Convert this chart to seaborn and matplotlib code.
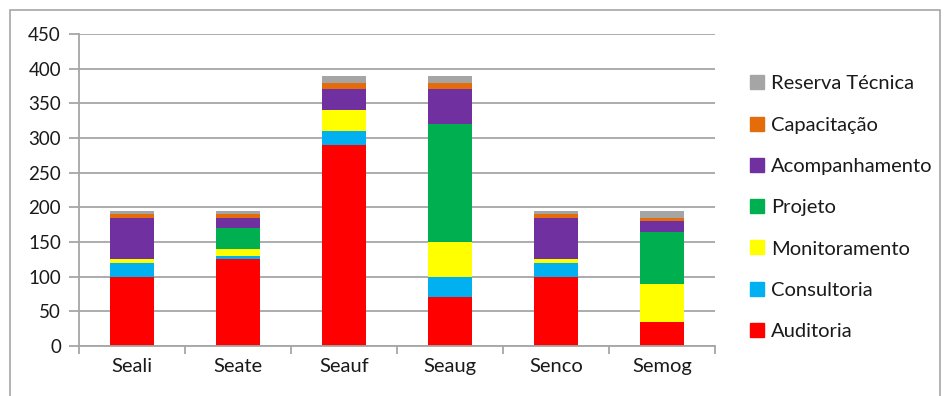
import matplotlib
matplotlib.use("Agg")
import matplotlib.pyplot as plt
from matplotlib.patches import Rectangle
from matplotlib.lines import Line2D
import seaborn as sns
import pandas as pd
import numpy as np

# dados
secoes = ["Seali", "Seate", "Seauf", "Seaug", "Senco", "Semog"]
auditoria = [100, 125, 290, 70, 100, 35]
consultoria = [20, 5, 20, 30, 20, 0]
monitoramento = [5, 10, 30, 50, 5, 55]
projeto = [0, 30, 0, 170, 0, 75]
acompanhamento = [60, 15, 30, 50, 60, 15]
capacitacao = [5, 5, 10, 10, 5, 5]
reserva = [5, 5, 10, 10, 5, 10]

series = [
    ("Auditoria", auditoria, "#FF0000"),
    ("Consultoria", consultoria, "#00B0F0"),
    ("Monitoramento", monitoramento, "#FFFF00"),
    ("Projeto", projeto, "#00B050"),
    ("Acompanhamento", acompanhamento, "#7030A0"),
    ("Capacitação", capacitacao, "#E46C0A"),
    ("Reserva Técnica", reserva, "#A5A5A5"),
]

sns.set_style("white")
plt.rcParams["font.family"] = ["Lato", "DejaVu Sans"]

fig = plt.figure(figsize=(9.5, 3.96), dpi=100)
ax = fig.add_axes([0.0832, 0.1263, 0.6694, 0.7879])

base = np.zeros(len(secoes))
for nome, vals, cor in series:
    df = pd.DataFrame({"secao": secoes, "valor": vals})
    sns.barplot(data=df, x="secao", y="valor", color=cor, width=0.41,
                bottom=base.copy(), ax=ax, saturation=1, errorbar=None,
                edgecolor="none", linewidth=0)
    base = base + np.array(vals)

grid_c = "#A6A6A6"
txt_c = "#1a1a1a"
ax.set_ylim(0, 450)
ax.set_xlim(-0.5, len(secoes) - 0.5)
ax.set_yticks(range(0, 451, 50))
ax.yaxis.grid(True, color=grid_c, linewidth=1.3)
ax.set_axisbelow(True)
ax.set_xlabel("")
ax.set_ylabel("")
for s in ["top", "right"]:
    ax.spines[s].set_visible(False)
for s in ["left", "bottom"]:
    ax.spines[s].set_color(grid_c)
    ax.spines[s].set_linewidth(1.3)
ax.tick_params(axis="y", length=7, width=1.3, color=grid_c, labelsize=13.5,
               pad=6, left=True, labelcolor=txt_c)
ax.tick_params(axis="x", length=0, labelsize=14.5, pad=9, labelcolor=txt_c)
ax.set_xticks(np.arange(-0.5, len(secoes)), minor=True)
ax.tick_params(axis="x", which="minor", length=6, width=1.3, color=grid_c, bottom=True)

handles = [Line2D([], [], marker="s", linestyle="none", markersize=10,
                  markerfacecolor=c, markeredgecolor=c) for _, _, c in series][::-1]
labels = [n for n, _, _ in series][::-1]
fig.legend(handles, labels, loc="upper left", bbox_to_anchor=(0.78, 0.83),
           frameon=False, fontsize=14.5, labelspacing=1.2, handlelength=0.8,
           handletextpad=0.3, borderaxespad=0, labelcolor=txt_c)

fig.patches.append(Rectangle((10 / 950, -0.05), 930 / 950, 0.05 + 386 / 396,
                             transform=fig.transFigure, fill=False,
                             edgecolor="#A6A6A6", linewidth=1.2))

fig.savefig("out.png", dpi=100)
